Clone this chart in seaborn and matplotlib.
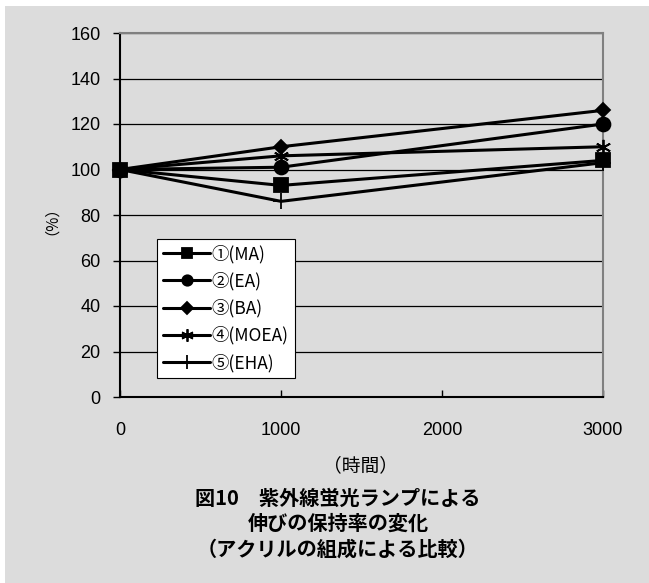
"""
Retention of elongation under UV fluorescent lamp - acrylic composition comparison
"""

import matplotlib
matplotlib.use('Agg')
import matplotlib.pyplot as plt
import seaborn as sns
from matplotlib.patches import Rectangle

# Data
hours = [0, 1000, 3000]
ma = [100, 93, 104]
ea = [100, 101, 120]
ba = [100, 110, 126]
moea = [100, 106, 110]
eha = [100, 86, 103]

series_labels = ['①(MA)', '②(EA)', '③(BA)', '④(MOEA)', '⑤(EHA)']
x_ticks = [0, 1000, 2000, 3000]
y_ticks = [0, 20, 40, 60, 80, 100, 120, 140, 160]

sns.set_theme(style='white')
plt.rcParams['font.family'] = ['Noto Sans CJK JP', 'DejaVu Sans']
plt.rcParams['text.color'] = 'black'
num_font = ['Liberation Sans', 'Noto Sans CJK JP']

bg = '#DCDCDC'
fig = plt.figure(figsize=(6.49, 5.83), dpi=100, facecolor='white')
fig.patches.append(Rectangle((5 / 649, 0), 1, 1 - 6 / 583, transform=fig.transFigure,
                             facecolor=bg, edgecolor='none', zorder=-10))
ax = fig.add_axes([120 / 649, 1 - 397 / 583, 483 / 649, 364 / 583])
ax.set_facecolor(bg)

# (values, marker, plot size, legend size)
styles = [
    (ma, 's', 10, 7.5),
    (ea, 'o', 10, 7.5),
    (ba, 'D', 7.5, 6),
    (moea, (6, 2, 0), 11, 9),
    (eha, '+', 12, 10),
]
for (vals, marker, ms, _), label in zip(styles, series_labels):
    sns.lineplot(x=hours, y=vals, ax=ax, color='black', marker=marker, markersize=ms,
                 markeredgecolor='black', markerfacecolor='black', markeredgewidth=1.3,
                 linewidth=2.2, label=label, clip_on=False, zorder=3)

ax.set_xlim(0, 3000)
ax.set_ylim(0, 160)
ax.set_xticks(x_ticks)
ax.set_yticks(y_ticks)
ax.yaxis.grid(True, color='black', linewidth=0.9)
ax.xaxis.grid(False)
ax.set_axisbelow(True)

for side in ['left', 'bottom']:
    ax.spines[side].set_color('black')
    ax.spines[side].set_linewidth(1.5)
for side in ['top', 'right']:
    ax.spines[side].set_color('#808080')
    ax.spines[side].set_linewidth(1.5)

ax.tick_params(axis='y', left=True, direction='out', length=5, width=1, color='black',
               labelsize=13, pad=9, labelcolor='black')
ax.tick_params(axis='x', bottom=True, direction='in', length=5, width=1, color='black',
               labelsize=13, pad=18, labelcolor='black')
for lab in ax.get_xticklabels() + ax.get_yticklabels():
    lab.set_family(num_font)
ax.set_xlabel('')
ax.set_ylabel('')

fig.text(43 / 649, 1 - 213 / 583, '（%）', rotation=90, ha='center', va='center',
         fontsize=11, color='black')
fig.text(361 / 649, 1 - 466 / 583, '（時間）', ha='center', va='center',
         fontsize=13.5, color='black')

title_lines = ['図10　紫外線蛍光ランプによる', '伸びの保持率の変化', '（アクリルの組成による比較）']
for i, line in enumerate(title_lines):
    fig.text(338 / 649, 1 - (498 + 25.5 * i) / 583, line, ha='center', va='center',
             fontsize=14.5, fontweight='bold', color='black')

leg = ax.legend(loc='lower left', bbox_to_anchor=(0.077, 0.052), fontsize=12.5,
                frameon=True, fancybox=False, framealpha=1, facecolor='white',
                edgecolor='black', handlelength=2.7, handletextpad=0.1,
                labelspacing=0.5, borderpad=0.35, borderaxespad=0)
leg.get_frame().set_linewidth(0.8)
for t in leg.get_texts():
    t.set_color('black')
for h, st in zip(leg.legend_handles, styles):
    h.set_markersize(st[3])

plt.savefig('out.png', dpi=100, facecolor=fig.get_facecolor())
